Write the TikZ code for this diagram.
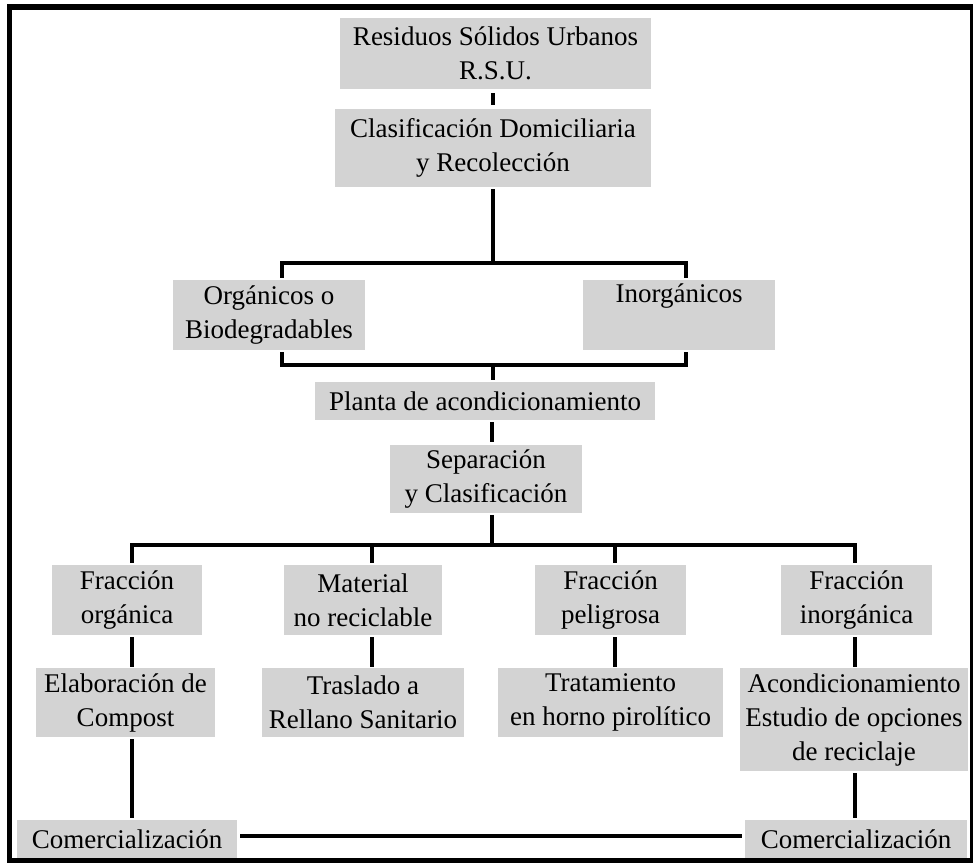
\documentclass[tikz,border=0pt]{standalone}
\usepackage{fontspec}
\setmainfont{Liberation Serif}
\begin{document}
\begin{tikzpicture}[x=1pt,y=-1pt,
  box/.style={fill=boxgray, inner sep=0pt, align=center, font=\fontsize{27}{34}\selectfont},
  ln/.style={line width=3.2pt, black},
  bar/.style={line width=4pt, black}]
\definecolor{boxgray}{HTML}{D3D3D3}
\useasboundingbox (0,0) rectangle (973,865);
\fill[white] (0,0) rectangle (973,865);
% frame
\draw[line width=5.5pt] (9.5,7) rectangle (972.5,860.5);
% nodes
\node[box, minimum width=311pt, minimum height=71pt] (b1) at (495.5,53.5) {Residuos Sólidos Urbanos\\R.S.U.};
\node[box, minimum width=316pt, minimum height=78pt] (b2) at (493,148) {Clasificación Domiciliaria\\y Recolección};
\node[box, minimum width=192pt, minimum height=70pt] (org) at (269,315) {Orgánicos o\\Biodegradables};
\node[box, minimum width=192pt, minimum height=70pt] (inorg) at (679,315) {Inorgánicos\\\strut};
\node[box, minimum width=340pt, minimum height=38pt] (planta) at (485,401) {Planta de acondicionamiento};
\node[box, minimum width=192pt, minimum height=68pt] (sep) at (486,479) {Separación\\y Clasificación};
\node[box, minimum width=150pt, minimum height=70pt] (fo) at (127,600) {Fracción\\orgánica};
\node[box, minimum width=158pt, minimum height=70pt] (mnr) at (363,600) {Material\\no reciclable};
\node[box, minimum width=151pt, minimum height=70pt] (fp) at (610.5,600) {Fracción\\peligrosa};
\node[box, minimum width=151pt, minimum height=70pt] (fi) at (856.5,600) {Fracción\\inorgánica};
\node[box, minimum width=179pt, minimum height=69pt] (comp) at (125.5,702.5) {Elaboración de\\Compost};
\node[box, minimum width=202pt, minimum height=69pt] (tras) at (363,702.5) {Traslado a\\Rellano Sanitario};
\node[box, minimum width=225pt, minimum height=69pt] (trat) at (610.5,702.5) {Tratamiento\\en horno pirolítico};
\node[box, minimum width=228pt, minimum height=103pt] (acond) at (854,719.5) {Acondicionamiento\\Estudio de opciones\\de reciclaje};
\node[box, minimum width=220pt, minimum height=38pt] (com1) at (127,839) {Comercialización};
\node[box, minimum width=222pt, minimum height=38pt] (com2) at (856,839) {Comercialización};
% junctions
\coordinate (j1) at (493,263);
\coordinate (j2) at (493,365);
\coordinate (j3) at (492,545);
% connectors
\draw[ln] ([yshift=-4pt]b1.south -| j1) -- ([yshift=4pt]b2.north -| j1);
\draw[ln] ([yshift=-2pt]b2.south -| j1) -- (j1);
\draw[bar] ([xshift=13pt,yshift=2pt]org.north) |- (j1) -| ([xshift=7pt,yshift=2pt]inorg.north);
\draw[bar] ([xshift=13pt,yshift=-2pt]org.south) |- (j2) -| ([xshift=7pt,yshift=-2pt]inorg.south);
\draw[ln] (j2) -- ([yshift=2pt]planta.north -| j2);
\draw[ln] ([yshift=-2pt]planta.south -| j3) -- ([yshift=3pt]sep.north -| j3);
\draw[ln] ([yshift=-2pt]sep.south -| j3) -- (j3);
\draw[bar] ([xshift=5pt,yshift=2pt]fo.north) |- (j3) -| ([xshift=-1.5pt,yshift=2pt]fi.north);
\draw[ln] ([xshift=9pt,yshift=2pt]mnr.north) -- ([xshift=9pt]mnr.north |- j3);
\draw[ln] ([xshift=4.5pt,yshift=2pt]fp.north) -- ([xshift=4.5pt]fp.north |- j3);
\draw[ln] ([xshift=5pt,yshift=-2pt]fo.south) -- ([xshift=6.5pt,yshift=1pt]comp.north);
\draw[ln] ([xshift=9pt,yshift=-2pt]mnr.south) -- ([xshift=9pt,yshift=1pt]tras.north);
\draw[ln] ([xshift=4.5pt,yshift=-2pt]fp.south) -- ([xshift=4.5pt,yshift=1pt]trat.north);
\draw[ln] ([xshift=-1.5pt,yshift=-2pt]fi.south) -- ([xshift=1pt,yshift=1pt]acond.north);
\draw[ln] ([xshift=6.5pt,yshift=-2pt]comp.south) -- ([xshift=5pt,yshift=2pt]com1.north);
\draw[ln] ([xshift=1pt,yshift=-2pt]acond.south) -- ([xshift=-1pt,yshift=2pt]com2.north);
\draw[ln] ([xshift=3pt,yshift=3pt]com1.east) -- ([xshift=-3pt,yshift=3pt]com2.west);
\end{tikzpicture}
\end{document}
